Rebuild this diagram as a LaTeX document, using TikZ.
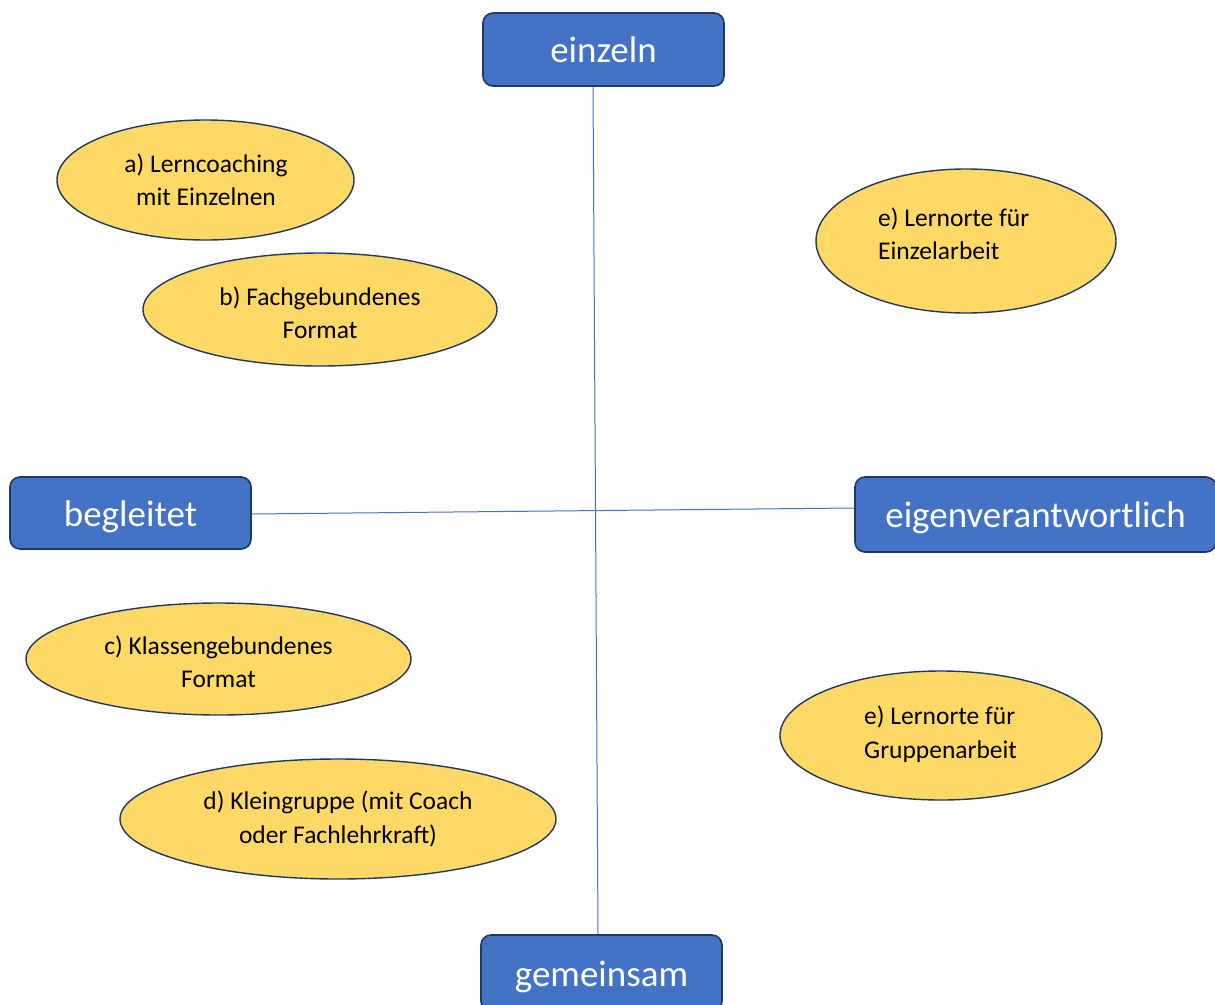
\documentclass[tikz,border=0pt]{standalone}
\usepackage{fontspec}
\setmainfont{Carlito}
\usetikzlibrary{shapes.geometric}
\definecolor{boxblue}{HTML}{4472C4}
\definecolor{navy}{HTML}{1F3864}
\definecolor{ellyellow}{HTML}{FFD966}
\tikzset{
  axisbox/.style={draw=navy, line width=1.6pt, fill=boxblue, rounded corners=10pt,
    text=white, font=\fontsize{37}{44}\selectfont, inner sep=0pt,
    text height=26pt, text depth=0pt},
  topic/.style={ellipse, draw=navy, line width=1.4pt, fill=ellyellow, inner sep=0pt},
  topictext/.style={font=\fontsize{25.5}{33.5}\selectfont, inner sep=0pt},
  axisline/.style={draw=boxblue, line width=1pt}
}
\begin{document}
\begin{tikzpicture}[x=1pt,y=-1pt]
\useasboundingbox (0,0) rectangle (1215,1004);
\clip (0,0) rectangle (1215,1004);
% axis boxes
\node[axisbox, minimum width=241pt, minimum height=73pt] (einzeln) at (603.5,49.5) {einzeln};
\node[axisbox, minimum width=241pt, minimum height=72pt] (begleitet) at (130.5,513) {begleitet};
\node[axisbox, minimum width=361pt, minimum height=75pt] (eigen) at (1035.5,514.5) {eigenverantwortlich};
\node[axisbox, minimum width=241pt, minimum height=76pt] (gemeinsam) at (601.5,973) {gemeinsam};
% axis lines
\draw[axisline] ([xshift=-10.5pt]einzeln.south) -- ([xshift=-3.5pt]gemeinsam.north);
\draw[axisline] ([yshift=-1pt]begleitet.east) -- ([yshift=6.5pt]eigen.west);
% ellipses
\node[topic, minimum width=297pt, minimum height=120pt] (a) at (205.5,180) {};
\node[topictext, align=center] (at) at (206,180) {a) Lerncoaching\\mit Einzelnen};
\node[topic, minimum width=354pt, minimum height=113pt] (b) at (320,309.5) {};
\node[topictext, align=center] (bt) at (320,313) {b) Fachgebundenes\\Format};
\node[topic, minimum width=300pt, minimum height=144pt] (e1) at (966,241) {};
\node[topictext, align=left, anchor=west] (e1t) at (878,234) {e) Lernorte für\\Einzelarbeit};
\node[topic, minimum width=385pt, minimum height=112pt] (c) at (218.5,659) {};
\node[topictext, align=center] (ct) at (218.5,662) {c) Klassengebundenes\\Format};
\node[topic, minimum width=322pt, minimum height=129pt] (e2) at (941,735.5) {};
\node[topictext, align=left, anchor=west] (e2t) at (864,734) {e) Lernorte für\\Gruppenarbeit};
\node[topic, minimum width=436pt, minimum height=120pt] (d) at (338,819) {};
\node[topictext, align=center] (dt) at (338,819) {d) Kleingruppe (mit Coach\\oder Fachlehrkraft)};
\end{tikzpicture}
\end{document}
